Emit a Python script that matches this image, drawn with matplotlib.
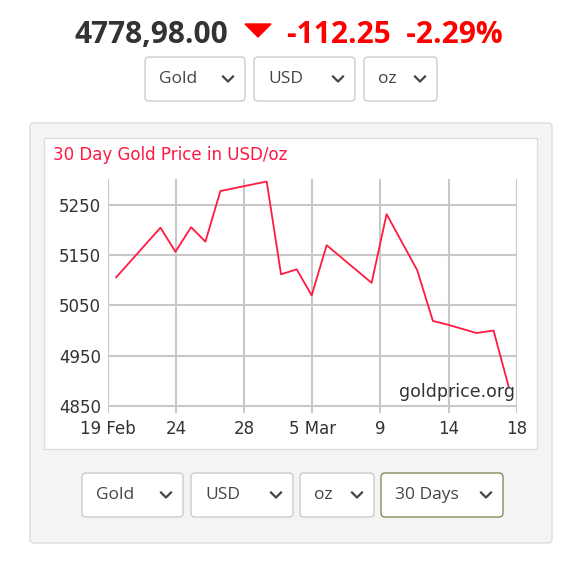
import matplotlib
matplotlib.use("Agg")
import matplotlib.pyplot as plt
from matplotlib.patches import FancyBboxPatch, Rectangle, Polygon

# tick positions are evenly spaced labels; points placed in label units
tick_labels = ["19 Feb", "24", "28", "5 Mar", "9", "14", "18"]
x_pos = [0.12, 0.77, 0.99, 1.22, 1.43, 1.65, 2.33, 2.54, 2.77, 2.99, 3.21,
         3.87, 4.09, 4.54, 4.77, 4.98, 5.41, 5.66, 5.88]
prices = [5106, 5205, 5157, 5206, 5177, 5278, 5297, 5112, 5122, 5070, 5170,
          5095, 5232, 5120, 5019, 5012, 4995, 5000, 4889]
y_ticks = [4850, 4950, 5050, 5150, 5250]

price_text = "4778,98.00"
change_text = "-112.25  -2.29%"
top_selects = [("Gold", 145, 100), ("USD", 254, 101), ("oz", 364, 73)]
bottom_selects = [("Gold", 82, 101), ("USD", 191, 102), ("oz", 300, 74), ("30 Days", 381, 122)]

W, H = 586, 570
fig = plt.figure(figsize=(W / 100, H / 100), dpi=100)
bg = fig.add_axes([0, 0, 1, 1])
bg.set_xlim(0, W)
bg.set_ylim(H, 0)
bg.axis("off")

font = "Open Sans"
bg.text(228, 35, price_text, ha="right", va="center", fontsize=21.5, fontweight="bold",
        color="#333333", family=font)
bg.add_patch(Polygon([[245, 24], [271, 24], [258, 37]], closed=True, color="red"))
bg.text(287, 35, change_text, ha="left", va="center", fontsize=21.5, fontweight="bold",
        color="red", family=font)


def select(label, x, y, w, h, edge="#cccccc"):
    bg.add_patch(FancyBboxPatch((x, y), w, h, boxstyle="round,pad=0,rounding_size=4",
                                facecolor="white", edgecolor=edge, lw=1))
    bg.text(x + 14, y + h / 2, label, ha="left", va="center", fontsize=12.5,
            color="#444444", family=font)
    cx, cy = x + w - 17, y + h / 2
    bg.plot([cx - 5, cx, cx + 5], [cy - 2.5, cy + 2.5, cy - 2.5], color="#444444", lw=1.6)


for label, x, w in top_selects:
    select(label, x, 57, w, 44)

# grey panel and white chart box
bg.add_patch(FancyBboxPatch((30, 123), 522, 420, boxstyle="round,pad=0,rounding_size=4",
                            facecolor="#f4f4f4", edgecolor="#dddddd", lw=1))
bg.add_patch(Rectangle((44, 138), 493, 311, facecolor="white", edgecolor="#dddddd", lw=1))
bg.text(53, 155, "30 Day Gold Price in USD/oz", ha="left", va="center", fontsize=12,
        color="#ff1744", family="DejaVu Sans")

for i, (label, x, w) in enumerate(bottom_selects):
    select(label, x, 473, w, 44, edge="#8a8a5a" if i == 3 else "#cccccc")

ax = fig.add_axes([108 / W, 1 - 413.3 / H, 408.7 / W, 234.3 / H])
ax.set_facecolor("none")
ax.plot(x_pos, prices, color="#ff1a40", lw=1.3)
ax.set_xlim(0, 6)
ax.set_ylim(4835, 5302)
ax.set_xticks(range(len(tick_labels)))
ax.set_xticklabels(tick_labels)
ax.set_yticks(y_ticks)
for v in y_ticks:
    ax.plot([0, 6], [v, v], color="#c8c8c8", lw=1.5, zorder=0)
for i in range(len(tick_labels)):
    ax.axvline(i, color="#c8c8c8", lw=1.5, zorder=0)
ax.tick_params(length=0, labelsize=12, colors="#333333", pad=5)
for s in ax.spines.values():
    s.set_visible(False)
ax.text(5.98, 4860, "goldprice.org", ha="right", va="bottom", fontsize=12.5, color="#333333")

fig.savefig("out.png", dpi=100)
